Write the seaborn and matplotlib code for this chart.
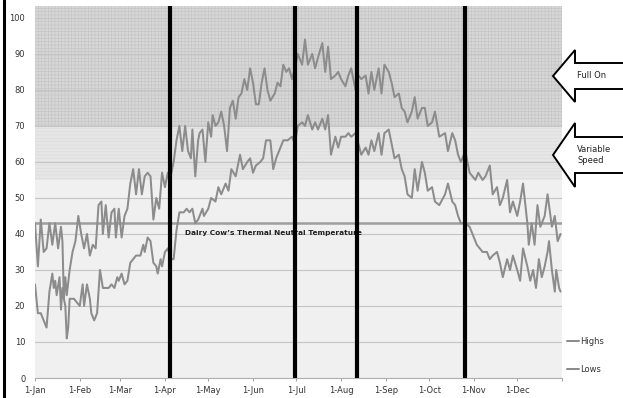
import numpy as np
import pandas as pd
import matplotlib
matplotlib.use("Agg")
import matplotlib.pyplot as plt
import seaborn as sns
from matplotlib.patches import Polygon
from matplotlib.lines import Line2D

# ============================================================
# DATA (day of year, deg F)
# ============================================================

high_days = [0, 2, 4, 6, 8, 10, 12, 14, 16, 18, 19, 20, 21, 22, 24, 26, 28, 30,
             32, 34, 36, 38, 40, 42, 44, 46, 47, 49, 51, 53, 55, 56, 58, 60, 62,
             64, 66, 68, 70, 72, 74, 76, 78, 80, 82, 84, 86, 88, 90, 92,
             94, 96, 98, 100, 102, 104, 106, 108, 109, 111, 113, 114, 116, 118,
             120, 122, 123, 125, 127, 129, 131, 133, 135, 137, 139, 141, 143,
             145, 147, 149, 151, 153, 155, 157, 159, 161, 163, 166, 168, 170,
             172, 174, 176, 178, 180, 182, 185, 187, 189, 192, 194, 196, 199,
             201, 203, 205, 208, 210, 212, 215, 217, 219, 222, 224, 226, 229,
             231, 233, 235, 238, 240, 242, 245, 247, 249, 252, 254, 256, 258,
             261, 263, 265, 268, 270, 272, 275, 277, 280, 284, 286, 289, 291,
             293, 295, 298, 301, 303, 305, 307, 310, 312, 315, 317, 320, 322,
             324, 327, 329, 331, 334, 336, 338, 341, 342, 344, 346, 348, 350,
             353, 355, 358, 360, 362, 364]
high_vals = [43, 31, 44, 35, 36, 43, 37, 43, 36, 42, 38, 22, 28, 23, 30, 35, 38, 45,
             40, 36, 40, 34, 37, 36, 48, 49, 40, 48, 39, 46, 47, 39, 47, 39, 45,
             47, 54, 58, 51, 58, 51, 56, 57, 56, 44, 50, 47, 57, 53, 57,
             56, 60, 66, 70, 63, 70, 63, 61, 69, 56, 66, 68, 69, 60,
             71, 67, 73, 70, 71, 74, 70, 63, 75, 77, 72, 78, 79,
             83, 80, 86, 82, 76, 76, 82, 86, 80, 77, 79, 82, 81,
             87, 85, 86, 83, 86, 90, 87, 94, 87, 90, 86, 89, 93,
             85, 92, 83, 84, 85, 83, 81, 84, 86, 80, 84, 83, 84,
             79, 85, 80, 86, 79, 87, 85, 82, 78, 79, 75, 74, 71,
             74, 78, 72, 75, 75, 70, 71, 74, 67, 68, 63, 68, 66,
             62, 60, 63, 57, 56, 55, 57, 55, 56, 59, 51, 53, 48,
             50, 55, 46, 49, 45, 49, 54, 43, 37, 43, 37, 48, 42,
             45, 51, 42, 45, 38, 40]

low_days = [0, 2, 4, 6, 8, 10, 12, 13, 14, 15, 17, 18, 19, 20, 21, 22, 23, 24,
            27, 29, 31, 33, 34, 36, 38, 39, 41, 43, 45, 47, 49, 51, 53, 55, 57,
            58, 60, 62, 64, 66, 68, 70, 73, 75, 76, 78, 80, 82, 84, 85, 87, 88,
            90, 92, 94, 96, 98, 100, 103, 105, 107, 109, 111, 113, 116, 117,
            120, 122, 125, 127, 129, 132, 134, 136, 139, 142, 144, 147, 149,
            151, 153, 156, 158, 160, 163, 165, 167, 170, 172, 175, 178, 180,
            182, 185, 187, 189, 192, 194, 196, 199, 201, 203, 205, 208, 210,
            212, 215, 217, 219, 222, 224, 226, 229, 231, 233, 235, 238, 240,
            242, 245, 247, 249, 252, 254, 256, 258, 261, 263, 265, 268, 270,
            272, 275, 277, 280, 284, 286, 289, 291, 293, 295, 298, 301, 303,
            306, 308, 310, 313, 315, 317, 320, 322, 324, 327, 329, 331, 334,
            336, 338, 341, 343, 345, 347, 349, 351, 353, 355, 356, 358, 360,
            361, 363, 364]
low_vals = [26, 18, 18, 16, 14, 24, 29, 25, 27, 23, 28, 19, 25, 22, 20, 11, 14, 22,
            22, 21, 20, 26, 20, 26, 22, 18, 16, 18, 30, 25, 25, 25, 26, 25, 28,
            27, 29, 26, 27, 32, 33, 34, 34, 37, 35, 39, 38, 32, 31, 29, 33, 31,
            35, 36, 33, 33, 41, 46, 46, 47, 46, 47, 43, 44, 47, 45,
            47, 50, 49, 53, 51, 54, 52, 58, 56, 62, 58, 60, 61,
            57, 59, 60, 61, 66, 66, 58, 61, 64, 66, 66, 67, 65,
            70, 71, 70, 73, 69, 71, 69, 72, 69, 73, 62, 67, 64,
            67, 67, 68, 67, 68, 65, 62, 64, 62, 66, 63, 68, 62,
            68, 69, 65, 61, 62, 58, 56, 51, 50, 58, 52, 60, 57,
            52, 53, 49, 48, 51, 54, 49, 48, 45, 43, 43, 42, 40,
            37, 36, 35, 35, 33, 34, 35, 32, 28, 33, 30, 34, 30,
            27, 36, 31, 27, 30, 25, 33, 28, 31, 35, 38, 30, 24,
            30, 25, 24]

month_starts = [0, 31, 59, 90, 120, 151, 181, 212, 243, 273, 304, 334, 365]
month_labels = ["1-Jan", "1-Feb", "1-Mar", "1-Apr", "1-May", "1-Jun", "1-Jul",
                "1-Aug", "1-Sep", "1-Oct", "1-Nov", "1-Dec", ""]
y_ticks = [0, 10, 20, 30, 40, 50, 60, 70, 80, 90, 100]

switch_days = [93.5, 180, 223, 298]
thermal_neutral = 43
variable_band = (55, 70)
full_on_band = (70, 103.3)

df = pd.concat([
    pd.DataFrame({"day": high_days, "temp": high_vals, "series": "Highs"}),
    pd.DataFrame({"day": low_days, "temp": low_vals, "series": "Lows"}),
])

# ============================================================
# FIGURE
# ============================================================

sns.set_style("white")
plt.rcParams["font.family"] = ["DejaVu Sans"]
plt.rcParams["hatch.linewidth"] = 0.4

W, H = 623, 398
fig = plt.figure(figsize=(W / 100, H / 100), dpi=100)
ax = fig.add_axes([35 / W, 20 / H, (562 - 35) / W, (378 - 6) / H])

line_grey = "#8c8c8c"

# background bands
ax.axhspan(0, variable_band[0], facecolor="#f0f0f0", lw=0, zorder=0.3)
ax.axhspan(*variable_band, facecolor="#e6e6e6", edgecolor="#dadada",
           hatch="-----", lw=0, zorder=0.3)
ax.axhspan(*full_on_band, facecolor="#d6d6d6", edgecolor="#c4c4c4",
           hatch="+++++", lw=0, zorder=0.3)

sns.lineplot(
    data=df,
    x="day",
    y="temp",
    hue="series",
    palette=[line_grey, line_grey],
    linewidth=1.45,
    legend=False,
    ax=ax,
    zorder=3
)

ax.axhline(thermal_neutral, color="#9e9e9e", lw=1.8, zorder=2.5)
ax.text(104, 40.4, "Dairy Cow\u2019s Thermal Neutral Temperature",
        fontsize=5.3, fontweight="bold", color="#222222", va="center",
        zorder=4)

for d in switch_days:
    ax.axvline(d, color="black", lw=3.0, zorder=5)

ax.set_xlim(0, 365)
ax.set_ylim(0, 103.3)
ax.set_xticks(month_starts)
ax.set_xticklabels(month_labels)
ax.set_yticks(y_ticks)
ax.set_xlabel("")
ax.set_ylabel("")
ax.set_axisbelow("line")
ax.yaxis.grid(True, color="#c4c4c4", lw=0.8)
ax.xaxis.grid(False)

for s in ["top", "right", "left"]:
    ax.spines[s].set_visible(False)
ax.spines["bottom"].set_color("#b0b0b0")
ax.spines["bottom"].set_linewidth(0.8)

ax.tick_params(axis="x", length=2.5, width=0.6, color="#909090",
               labelsize=6, labelcolor="#333333", pad=3, bottom=True)
ax.tick_params(axis="y", length=0, labelsize=6, labelcolor="#333333", pad=7)

# legend
handles = [Line2D([], [], color=line_grey, lw=1.45),
           Line2D([], [], color=line_grey, lw=1.45)]
ax.legend(handles, ["Highs", "Lows"], loc="lower left",
          bbox_to_anchor=(0.995, -0.01), frameon=False, fontsize=6,
          handlelength=1.4, handletextpad=0.15, labelspacing=2.3,
          labelcolor="#333333")


# arrows
def left_arrow(y_tip, head_half, shaft_half):
    xt, xb, xe = 553, 575, 630
    pts = [(xt, y_tip), (xb, y_tip - head_half), (xb, y_tip - shaft_half),
           (xe, y_tip - shaft_half), (xe, y_tip + shaft_half),
           (xb, y_tip + shaft_half), (xb, y_tip + head_half)]
    pts = [(x / W, 1 - y / H) for x, y in pts]
    fig.add_artist(Polygon(pts, closed=True, facecolor="white",
                           edgecolor="black", lw=1.4,
                           transform=fig.transFigure))


left_arrow(76, 26, 13)
left_arrow(155, 32, 18)
fig.text(577 / W, 1 - 76 / H, "Full On", fontsize=6, va="center",
         color="#222222")
fig.text(577 / W, 1 - 155 / H, "Variable\nSpeed", fontsize=6, va="center",
         color="#222222", linespacing=1.2)

# left frame edge
fig.add_artist(Line2D([4 / W, 4 / W], [0, 1], color="black", lw=2.2,
                      transform=fig.transFigure))

plt.savefig("out.png", dpi=100)
plt.close()
